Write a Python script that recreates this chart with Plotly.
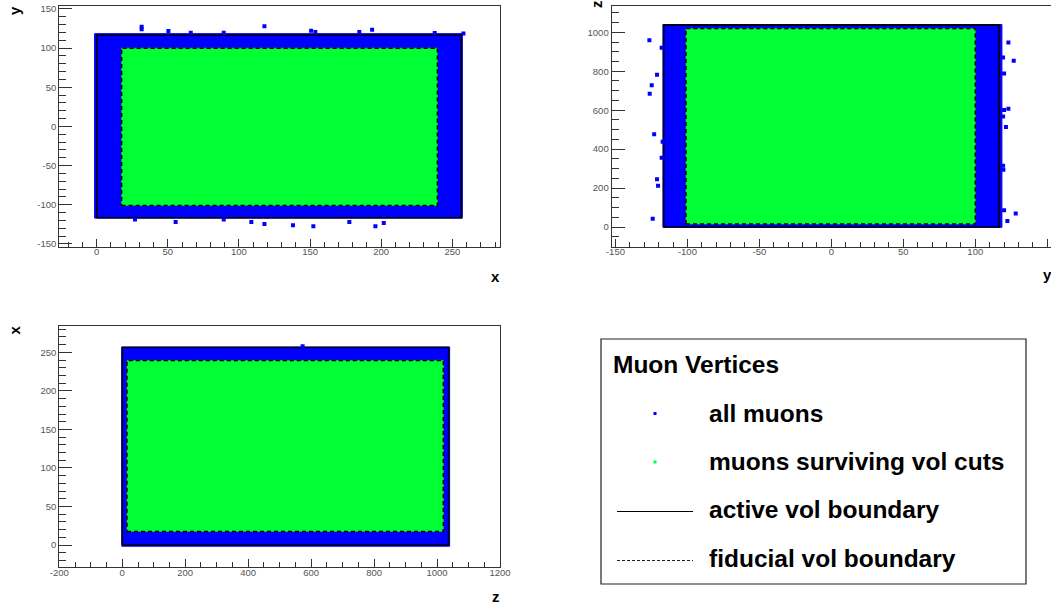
import plotly.graph_objects as go

W, H = 1051, 605

# ---- detector volumes (cm) ----
active_x = [0.0, 256.35]
active_y = [-116.5, 116.5]
active_z = [0.0, 1036.8]
fiducial_x = [17.5, 239.5]
fiducial_y = [-101.0, 100.0]
fiducial_z = [15.0, 1020.0]
# envelope of the densely populated "all muons" vertices
allmu_x = [-1.5, 257.0]
allmu_y = [-117.0, 118.5]
allmu_z = [-1.5, 1040.0]

# ---- sparse outlying muon vertices ----
xy_out_x = [31.6, 31.6, 50.4, 66.1, 89.3, 117.9, 150.7, 153.7, 184.6, 193.6, 237.6, 257.8,
            26.9, 55.5, 89.3, 108.7, 117.9, 138.0, 152.3, 177.6, 195.9, 201.8]
xy_out_y = [127.4, 124.0, 121.9, 119.7, 119.7, 127.9, 122.3, 120.6, 120.6, 123.6, 119.3, 118.8,
            -118.8, -122.0, -118.8, -122.0, -124.6, -126.2, -127.5, -122.0, -127.5, -123.2]

yz_out_y = [-126.4, -117.9, -121.1, -124.8, -126.2, -123.1, -117.2, -117.9, -121.1, -120.4, -124.1,
            123.0, 119.3, 126.7, 120.0, 120.0, 123.0, 119.3, 121.3, 119.3, 119.5, 120.0, 128.1, 122.3]
yz_out_z = [959, 921, 782, 728, 685, 476, 438, 356, 245, 212, 43,
            947, 870, 854, 788, 601, 608, 568, 514, 315, 294, 86, 70, 31]

zx_out_z = [573]
zx_out_x = [258]

# ---- tick labels ----
tl_xticks = [0, 50, 100, 150, 200, 250]
tl_yticks = [-150, -100, -50, 0, 50, 100, 150]
tr_xticks = [-150, -100, -50, 0, 50, 100, 150]
tr_yticks = [0, 200, 400, 600, 800, 1000]
bl_xticks = [-200, 0, 200, 400, 600, 800, 1000, 1200]
bl_yticks = [0, 50, 100, 150, 200, 250]

BLUE = "#0000ff"
GREEN = "#00ff33"
FONT = "Liberation Sans"


def rect(lo_a, hi_a, lo_b, hi_b):
    return [lo_a, hi_a, hi_a, lo_a, lo_a], [lo_b, lo_b, hi_b, hi_b, lo_b]


fig = go.Figure()


def add_view(a_env, b_env, a_fid, b_fid, a_act, b_act, a_out, b_out, xa, ya):
    ax, ay = rect(a_env[0], a_env[1], b_env[0], b_env[1])
    fig.add_trace(go.Scatter(x=ax, y=ay, mode="lines", fill="toself", fillcolor=BLUE,
                             line=dict(color=BLUE, width=1), xaxis=xa, yaxis=ya,
                             showlegend=False, hoverinfo="skip"))
    fx, fy = rect(a_fid[0], a_fid[1], b_fid[0], b_fid[1])
    fig.add_trace(go.Scatter(x=fx, y=fy, mode="lines", fill="toself", fillcolor=GREEN,
                             line=dict(color=GREEN, width=0.5), xaxis=xa, yaxis=ya,
                             showlegend=False, hoverinfo="skip"))
    cx, cy = rect(a_act[0], a_act[1], b_act[0], b_act[1])
    fig.add_trace(go.Scatter(x=cx, y=cy, mode="lines", line=dict(color="black", width=1.6),
                             xaxis=xa, yaxis=ya, showlegend=False, hoverinfo="skip"))
    fig.add_trace(go.Scatter(x=fx, y=fy, mode="lines",
                             line=dict(color="black", width=1.5, dash="4px,3px"),
                             xaxis=xa, yaxis=ya, showlegend=False, hoverinfo="skip"))
    fig.add_trace(go.Scatter(x=a_out, y=b_out, mode="markers",
                             marker=dict(symbol="square", size=4, color=BLUE, line=dict(width=0)),
                             xaxis=xa, yaxis=ya, showlegend=False, hoverinfo="skip"))


add_view(allmu_x, allmu_y, fiducial_x, fiducial_y, active_x, active_y, xy_out_x, xy_out_y, "x", "y")
add_view(allmu_y, allmu_z, fiducial_y, fiducial_z, active_y, active_z, yz_out_y, yz_out_z, "x2", "y2")
add_view(allmu_z, allmu_x, fiducial_z, fiducial_x, active_z, active_x, zx_out_z, zx_out_x, "x3", "y3")


def px(v):
    return v / W


def py(v):
    return 1 - v / H


def axis(domain, rng, ticks, minor_dtick, ticklen, minorlen, anchor, standoff=0):
    return dict(domain=domain, range=rng, anchor=anchor, automargin=False,
                tickmode="array", tickvals=ticks, ticktext=[str(t) for t in ticks],
                ticks="inside", ticklen=ticklen, tickcolor="#333333", tickwidth=1,
                ticklabelstandoff=standoff,
                minor=dict(ticks="inside", ticklen=minorlen, dtick=minor_dtick, tick0=0,
                           tickcolor="#333333", tickwidth=1, showgrid=False),
                showgrid=False, zeroline=False, showline=True, mirror=True,
                linecolor="#333333", linewidth=1.2,
                tickfont=dict(family=FONT, size=9.5, color="#555555"))


dom_left = [px(59.3), px(500)]
dom_right = [px(611.7), 1.0]
dom_top = [py(246.7), py(6)]
dom_bot = [py(566.7), py(326)]

fig.update_layout(
    width=W, height=H,
    margin=dict(l=0, r=0, t=0, b=0, autoexpand=False),
    paper_bgcolor="white", plot_bgcolor="white",
    showlegend=False,
    xaxis=axis(dom_left, [-26.3, 283.5], tl_xticks, 10, 8, 4.5, "y", -4),
    yaxis=axis(dom_top, [-153.5, 153.8], tl_yticks, 10, 13, 7, "x"),
    xaxis2=axis(dom_right, [-152.6, 152.6], tr_xticks, 10, 8, 4.5, "y2", -4),
    yaxis2=axis(dom_top, [-101, 1135], tr_yticks, 50, 13, 7, "x2"),
    xaxis3=axis(dom_left, [-200, 1200], bl_xticks, 50, 8, 4.5, "y3", -3),
    yaxis3=axis(dom_bot, [-28.1, 284.2], bl_yticks, 10, 13, 7, "x3"),
)

# axis titles
titles = [("y", 14, 11, -90), ("x", 495, 276, 0),
          ("z", 596, 4, -90), ("y", 1047, 274, 0),
          ("x", 13.5, 330, -90), ("z", 496, 596, 0)]
for txt, tx, ty, ang in titles:
    fig.add_annotation(x=px(tx), y=py(ty), xref="paper", yref="paper", text="<b>%s</b>" % txt,
                       showarrow=False, textangle=ang, xanchor="center", yanchor="middle",
                       font=dict(family=FONT, size=15, color="black"))

# legend box
fig.add_shape(type="rect", xref="paper", yref="paper", x0=px(601), x1=px(1026), y0=py(584), y1=py(339),
              line=dict(color="#222222", width=1.2), fillcolor="white", layer="above")
fig.add_annotation(x=px(611), y=py(364.5), xref="paper", yref="paper", text="<b>Muon Vertices</b>",
                   showarrow=False, xanchor="left", yanchor="middle",
                   font=dict(family=FONT, size=24.5, color="black"))
entries = [("all muons", 413.5), ("muons surviving vol cuts", 461.5),
           ("active vol boundary", 509.5), ("fiducial vol boundary", 558.5)]
for txt, ty in entries:
    fig.add_annotation(x=px(707), y=py(ty), xref="paper", yref="paper", text="<b>%s</b>" % txt,
                       showarrow=False, xanchor="left", yanchor="middle",
                       font=dict(family=FONT, size=24.5, color="black"))
# legend samples
for col, ty in [(BLUE, 413.5), (GREEN, 462.0)]:
    fig.add_shape(type="rect", xref="paper", yref="paper", x0=px(653.5), x1=px(656.5),
                  y0=py(ty + 1.5), y1=py(ty - 1.5),
                  line=dict(width=0), fillcolor=col, layer="above")
fig.add_shape(type="line", xref="paper", yref="paper", x0=px(617), x1=px(693), y0=py(511.5), y1=py(511.5),
              line=dict(color="black", width=1), layer="above")
fig.add_shape(type="line", xref="paper", yref="paper", x0=px(617), x1=px(693), y0=py(560.5), y1=py(560.5),
              line=dict(color="#222222", width=1, dash="3px,2px"), layer="above")

fig.write_html("out.html")
